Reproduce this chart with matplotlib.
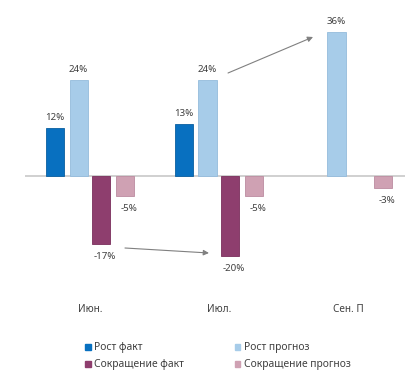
import numpy as np
import matplotlib
matplotlib.use("Agg")
import matplotlib.pyplot as plt
from matplotlib.patches import Patch

plt.rcParams['font.family'] = ['Noto Sans', 'DejaVu Sans']

categories = ["Июн.", "Июл.", "Сен. П"]
series_names = ["Рост факт", "Рост прогноз", "Сокращение факт", "Сокращение прогноз"]
rost_fakt = [12, 13, np.nan]
rost_prognoz = [24, 24, 36]
sokr_fakt = [-17, -20, np.nan]
sokr_prognoz = [-5, -5, -3]
series = [rost_fakt, rost_prognoz, sokr_fakt, sokr_prognoz]
colors = ["#0870C0", "#A7CCE9", "#8E3E6E", "#CFA1B3"]
edges = ["#0A5FA0", "#94BCDC", "#7A2E5C", "#BC8CA0"]

W, H = 415, 378
fig = plt.figure(figsize=(W / 100, H / 100), dpi=100)
ax = fig.add_axes([25 / W, 1 - 296 / H, 380 / W, 276 / H])

x = np.arange(len(categories))
offsets = [-0.271, -0.089, 0.085, 0.271]
bw = 0.14
txtc = "#404040"
for vals, off, c, ec in zip(series, offsets, colors, edges):
    v = np.array(vals, dtype=float)
    ax.bar(x + off, v, width=bw, color=c, edgecolor=ec, linewidth=0.6, zorder=2)
    for xi, vi in zip(x + off, v):
        if np.isnan(vi):
            continue
        if vi >= 0:
            ax.annotate(f"{vi:.0f}%", (xi, vi), xytext=(0, 4.5), textcoords="offset points",
                        ha="center", va="bottom", fontsize=7.0, color=txtc)
        else:
            ax.annotate(f"{vi:.0f}%", (xi + 0.03, vi), xytext=(0, -6.0), textcoords="offset points",
                        ha="center", va="top", fontsize=7.0, color=txtc)

ax.axhline(0, color="#C8C8C8", linewidth=1.2, zorder=1)
ax.set_xlim(-0.504, 2.442)
ax.set_ylim(-30, 39)
ax.set_xticks(x)
ax.set_xticklabels(categories, fontsize=7.2, color=txtc)
ax.tick_params(axis="x", length=0, pad=6)
ax.set_yticks([])
for s in ax.spines.values():
    s.set_visible(False)

# trend arrows
arrows = [((1.070, 25.75), (1.729, 34.75)), ((0.271, -18.0), (0.922, -19.25))]
for start, end in arrows:
    ax.annotate("", xy=end, xytext=start,
                arrowprops=dict(arrowstyle="-|>", color="#808080", lw=0.8,
                                mutation_scale=8, shrinkA=0, shrinkB=0))

handles = [Patch(facecolor=colors[i], edgecolor=colors[i]) for i in [0, 2, 1, 3]]
labels = [series_names[i] for i in [0, 2, 1, 3]]
fig.legend(handles, labels, ncol=2, loc="upper left", bbox_to_anchor=(76 / W, 1 - 333 / H),
           frameon=False, fontsize=7.4, handlelength=0.55, handleheight=0.55,
           handletextpad=0.35, columnspacing=4.9, labelspacing=0.6, labelcolor=txtc)

fig.savefig("out.png", dpi=100)
